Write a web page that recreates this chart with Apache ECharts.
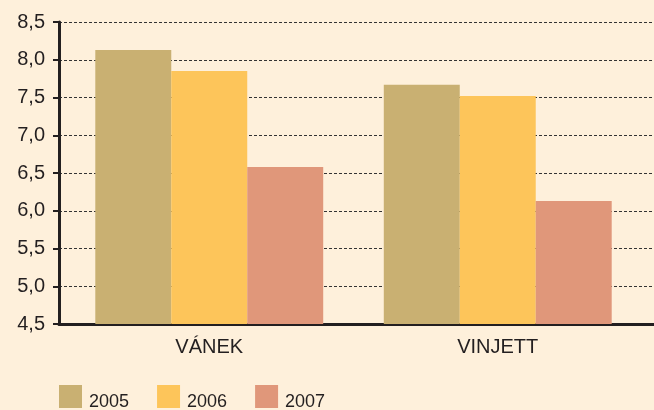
<!DOCTYPE html>
<html><head><meta charset="utf-8">
<script src="https://cdn.jsdelivr.net/npm/echarts@6/dist/echarts.min.js"></script>
<style>html,body{margin:0;padding:0;background:#FEF0DB;}#c{width:654px;height:410px;}</style>
</head><body><div id="c"></div>
<script>
const categories = ['VÁNEK', 'VINJETT'];
const years = ['2005', '2006', '2007'];
const v2005 = [8.13, 7.67];
const v2006 = [7.85, 7.52];
const v2007 = [6.58, 6.13];
const colors = ['#C9B072', '#FDC55A', '#E0977A'];
const FONT = '"Liberation Sans", Arial, sans-serif';
const seriesData = [v2005, v2006, v2007];
const chart = echarts.init(document.getElementById('c'));
chart.setOption({
  backgroundColor: '#FEF0DB',
  animation: false,
  textStyle: { fontFamily: FONT },
  grid: [
    { left: 65, right: 12, top: 22, bottom: 86 },
    { left: 59, right: 0, top: 22, bottom: 86 }
  ],
  legend: {
    left: 54, top: 380, itemWidth: 23, itemHeight: 23, itemGap: 28,
    icon: 'rect',
    formatter: name => '{t|' + name + '}',
    textStyle: {
      fontFamily: FONT, fontSize: 18, color: '#231F20',
      rich: { t: { fontFamily: FONT, fontSize: 18, color: '#231F20', padding: [11, 0, 0, 2] } }
    },
    data: years
  },
  xAxis: [
    {
      type: 'category', data: categories, gridIndex: 0,
      axisLine: { show: false },
      axisTick: { show: false },
      axisLabel: { fontFamily: FONT, fontSize: 20, color: '#231F20', margin: 13 }
    },
    {
      type: 'category', data: categories, gridIndex: 1,
      axisLine: { lineStyle: { color: '#231F20', width: 3 } },
      axisTick: { show: false },
      axisLabel: { show: false }
    }
  ],
  yAxis: [
    {
      type: 'value', min: 4.5, max: 8.5, interval: 0.5, gridIndex: 0,
      axisLine: { show: false }, axisTick: { show: false },
      axisLabel: { show: false }, splitLine: { show: false }
    },
    {
      type: 'value', min: 4.5, max: 8.5, interval: 0.5, gridIndex: 1,
      axisLine: { show: true, lineStyle: { color: '#231F20', width: 3 } },
      axisTick: { show: true, length: 6, lineStyle: { color: '#231F20', width: 2 } },
      axisLabel: { fontFamily: FONT, fontSize: 20, color: '#231F20', margin: 14,
        formatter: v => v.toFixed(1).replace('.', ',') },
      splitLine: { show: true, lineStyle: { color: '#333', width: 1, type: [3, 2] } }
    }
  ],
  series: years.map((y, i) => ({
    name: y, type: 'bar', data: seriesData[i],
    xAxisIndex: 0, yAxisIndex: 0,
    itemStyle: { color: colors[i] },
    barGap: '0%', barCategoryGap: '21%'
  }))
});
</script></body></html>
